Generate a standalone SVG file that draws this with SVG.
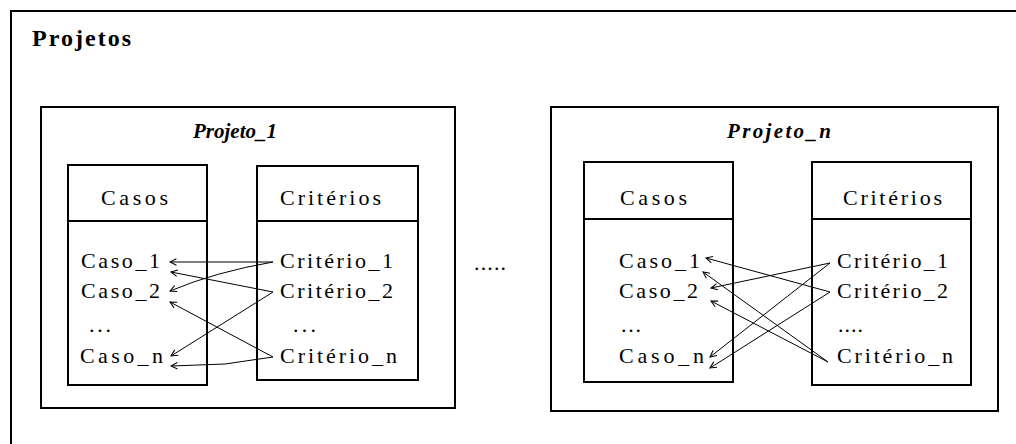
<svg xmlns="http://www.w3.org/2000/svg" width="1016" height="444" viewBox="0 0 1016 444">
  <style>
    .box { fill: none; stroke: #000; stroke-width: 2; }
    .txt { font-family: "Liberation Serif", "Times New Roman", serif; font-size: 22px; fill: #000; }
    .ttl { font-family: "Liberation Serif", "Times New Roman", serif; font-size: 21px; font-weight: bold; font-style: italic; fill: #000; }
    .hdr { font-family: "Liberation Serif", "Times New Roman", serif; font-size: 24px; font-weight: bold; fill: #000; }
    .link { fill: none; stroke: #000; stroke-width: 1; marker-end: url(#head); }
  </style>
  <defs>
    <marker id="head" viewBox="0 0 10 10" refX="9" refY="5" markerWidth="8" markerHeight="8" markerUnits="userSpaceOnUse" orient="auto">
      <path d="M1,1 L9,5 L1,9" fill="none" stroke="#000" stroke-width="1.3"/>
    </marker>
  </defs>
  <rect width="1016" height="444" fill="#fff"/>

  <!-- outer container, open to the right and bottom -->
  <g id="projetos">
    <polyline class="box" points="1020,11 11,11 11,450"/>
    <text class="hdr" x="32" y="46" textLength="99" lengthAdjust="spacing">Projetos</text>
  </g>

  <g id="projeto_1">
    <rect class="box" x="41" y="107" width="414" height="301"/>
    <text class="ttl" x="193" y="138" textLength="84" lengthAdjust="spacing">Projeto_1</text>
  </g>

  <g id="casos_1">
    <rect class="box" x="68" y="165" width="139" height="220"/>
    <line class="box" x1="68" y1="221" x2="207" y2="221"/>
    <text class="txt" x="101" y="205" textLength="67">Casos</text>
    <text class="txt" x="81" y="268" textLength="79">Caso_1</text>
    <text class="txt" x="81" y="298" textLength="79">Caso_2</text>
    <text class="txt" x="89" y="332" textLength="22">...</text>
    <text class="txt" x="80" y="363" textLength="83">Caso_n</text>
  </g>

  <g id="criterios_1">
    <rect class="box" x="257" y="166" width="161" height="214"/>
    <line class="box" x1="257" y1="221" x2="418" y2="221"/>
    <text class="txt" x="280" y="205" textLength="101">Critérios</text>
    <text class="txt" x="280" y="268" textLength="113">Critério_1</text>
    <text class="txt" x="280" y="298" textLength="113">Critério_2</text>
    <text class="txt" x="293" y="332" textLength="23">...</text>
    <text class="txt" x="280" y="363" textLength="117">Critério_n</text>
  </g>

  <g id="reticencias">
    <text class="txt" x="474" y="270" textLength="32">.....</text>
  </g>

  <g id="projeto_n">
    <rect class="box" x="551" y="107" width="447" height="304"/>
    <text class="ttl" x="727" y="138" textLength="104" lengthAdjust="spacing">Projeto_n</text>
  </g>

  <g id="casos_n">
    <rect class="box" x="584" y="162" width="149" height="220"/>
    <line class="box" x1="584" y1="219" x2="733" y2="219"/>
    <text class="txt" x="620" y="205" textLength="67">Casos</text>
    <text class="txt" x="619" y="268" textLength="81">Caso_1</text>
    <text class="txt" x="619" y="298" textLength="79">Caso_2</text>
    <text class="txt" x="621" y="332" textLength="20">...</text>
    <text class="txt" x="619" y="363" textLength="85">Caso_n</text>
  </g>

  <g id="criterios_n">
    <rect class="box" x="812" y="162" width="159" height="223"/>
    <line class="box" x1="812" y1="219" x2="971" y2="219"/>
    <text class="txt" x="843" y="205" textLength="99">Critérios</text>
    <text class="txt" x="837" y="268" textLength="111">Critério_1</text>
    <text class="txt" x="837" y="298" textLength="111">Critério_2</text>
    <text class="txt" x="838" y="332" textLength="25">....</text>
    <text class="txt" x="837" y="363" textLength="116">Critério_n</text>
  </g>

  <g id="connectors">
    <!-- Projeto_1: criteria to cases -->
    <line class="link" x1="273" y1="262" x2="170" y2="262"/>
    <path class="link" d="M273,262 Q215,272 170,291"/>
    <line class="link" x1="273" y1="292" x2="171" y2="272"/>
    <line class="link" x1="273" y1="292" x2="171" y2="356"/>
    <line class="link" x1="273" y1="357" x2="170" y2="302"/>
    <polyline class="link" points="273,357 225,364 171,366"/>

    <!-- Projeto_n: criteria to cases -->
    <line class="link" x1="830" y1="292" x2="706" y2="258"/>
    <line class="link" x1="828" y1="362" x2="703" y2="272"/>
    <line class="link" x1="830" y1="263" x2="711" y2="288"/>
    <line class="link" x1="828" y1="362" x2="711" y2="301"/>
    <line class="link" x1="830" y1="263" x2="710" y2="357"/>
    <line class="link" x1="830" y1="292" x2="710" y2="368"/>
  </g>
</svg>
